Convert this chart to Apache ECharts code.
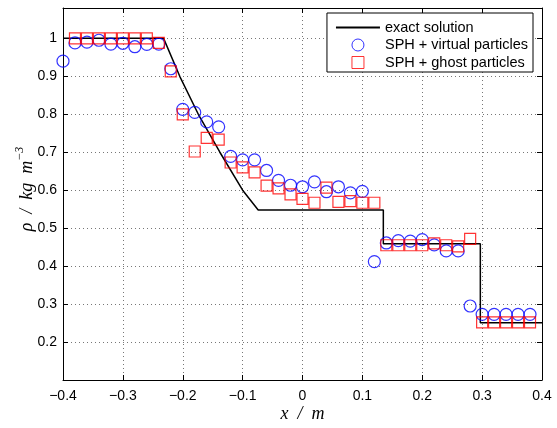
<!DOCTYPE html>
<html>
<head>
<meta charset="utf-8">
<script src="https://cdn.jsdelivr.net/npm/echarts@6/dist/echarts.min.js"></script>
<style>html,body{margin:0;padding:0;background:#fff}#c{width:557px;height:428px}</style>
</head>
<body>
<div id="c"></div>
<script>
// Exact solution (x, rho)
var exactX   = [-0.4, -0.232, -0.205, -0.174, -0.138, -0.100, -0.074, 0.135, 0.135, 0.297, 0.297, 0.4];
var exactRho = [1.0,  1.0,    0.9,    0.8,    0.7,    0.6,    0.548,  0.548, 0.459, 0.459, 0.251, 0.251];

// SPH + virtual particles (circles)
var virtX   = [-0.40, -0.38, -0.36, -0.34, -0.32, -0.30, -0.28, -0.26, -0.24, -0.22, -0.20, -0.18, -0.16, -0.14, -0.12, -0.10, -0.08, -0.06, -0.04, -0.02, 0.00, 0.02, 0.04, 0.06, 0.08, 0.10, 0.12, 0.14, 0.16, 0.18, 0.20, 0.22, 0.24, 0.26, 0.28, 0.30, 0.32, 0.34, 0.36, 0.38];
var virtRho = [0.940, 0.988, 0.990, 0.995, 0.985, 0.987, 0.978, 0.984, 0.985, 0.920, 0.813, 0.805, 0.780, 0.767, 0.689, 0.680, 0.680, 0.652, 0.626, 0.613, 0.609, 0.622, 0.596, 0.609, 0.593, 0.597, 0.412, 0.461, 0.467, 0.466, 0.470, 0.456, 0.440, 0.440, 0.295, 0.273, 0.273, 0.273, 0.273, 0.273];

// SPH + ghost particles (squares)
var ghostX   = [-0.38, -0.36, -0.34, -0.32, -0.30, -0.28, -0.26, -0.24, -0.22, -0.20, -0.18, -0.16, -0.14, -0.12, -0.10, -0.08, -0.06, -0.04, -0.02, 0.00, 0.02, 0.04, 0.06, 0.08, 0.10, 0.12, 0.14, 0.16, 0.18, 0.20, 0.22, 0.24, 0.26, 0.28, 0.30, 0.32, 0.34, 0.36, 0.38];
var ghostRho = [1.0, 1.0, 1.0, 1.0, 1.0, 1.0, 1.0, 0.988, 0.913, 0.800, 0.702, 0.738, 0.733, 0.673, 0.660, 0.647, 0.612, 0.605, 0.589, 0.577, 0.567, 0.607, 0.569, 0.571, 0.567, 0.567, 0.455, 0.455, 0.455, 0.455, 0.460, 0.455, 0.452, 0.472, 0.252, 0.252, 0.252, 0.252, 0.252];

var seriesNames = ['exact solution', 'SPH + virtual particles', 'SPH + ghost particles'];
var xTicks = {min: -0.4, max: 0.4, step: 0.1};
var yTicks = {min: 0.1, max: 1.08, step: 0.1};

function zip(a, b) { return a.map(function (v, i) { return [v, b[i]]; }); }
function fmt(v) {
  var r = Math.round(v * 10) / 10;
  if (r === 0) return '0';
  var s = Math.abs(r).toString();
  return (r < 0 ? '\u2212' : '') + s;
}

var tickFont = {fontFamily: 'Liberation Sans', fontSize: 14, color: '#000'};
var gridLine = {show: true, lineStyle: {color: '#777', type: [1, 3], width: 1}};

var chart = echarts.init(document.getElementById('c'), null, {renderer: 'canvas'});
chart.setOption({
  animation: false,
  backgroundColor: '#fff',
  grid: {left: 63, right: 15, top: 8, bottom: 44, containLabel: false},
  legend: {
    orient: 'vertical', right: 24, top: 13,
    itemWidth: 44, itemHeight: 12, itemGap: 2.5,
    padding: [7, 5, 2, 8],
    borderColor: '#000', borderWidth: 1, backgroundColor: '#fff',
    textStyle: {fontFamily: 'Liberation Sans', fontSize: 14.5, color: '#000'},
    data: [
      {name: seriesNames[0], itemStyle: {color: 'transparent', borderColor: 'transparent', borderWidth: 0}},
      {name: seriesNames[1], icon: 'circle', itemStyle: {color: 'transparent', borderColor: '#0000ff', borderWidth: 1}},
      {name: seriesNames[2], icon: 'path://M0,0L10,0L10,10L0,10Z', itemStyle: {color: 'transparent', borderColor: '#ff0000', borderWidth: 1}}
    ]
  },
  xAxis: [{
    type: 'value', min: xTicks.min, max: xTicks.max, interval: xTicks.step,
    position: 'bottom',
    axisLine: {show: true, onZero: false, lineStyle: {color: '#000', width: 1}},
    axisTick: {show: true, inside: true, length: 5, lineStyle: {color: '#000'}},
    axisLabel: Object.assign({margin: 9, formatter: fmt}, tickFont),
    splitLine: gridLine,
    name: 'x  /  m', nameLocation: 'middle', nameGap: 25, nameMoveOverlap: false,
    nameTextStyle: {fontFamily: 'Liberation Serif', fontStyle: 'italic', fontSize: 18, color: '#000', verticalAlign: 'top'}
  }, {
    type: 'value', min: xTicks.min, max: xTicks.max, interval: xTicks.step,
    position: 'top',
    axisLine: {show: true, onZero: false, lineStyle: {color: '#000', width: 1}},
    axisTick: {show: true, inside: true, length: 5, lineStyle: {color: '#000'}},
    axisLabel: {show: false}, splitLine: {show: false}
  }],
  yAxis: [{
    type: 'value', min: yTicks.min, max: yTicks.max, interval: yTicks.step,
    position: 'left',
    axisLine: {show: true, onZero: false, lineStyle: {color: '#000', width: 1}},
    axisTick: {show: true, inside: true, length: 5, lineStyle: {color: '#000'}},
    axisLabel: Object.assign({margin: 6, showMaxLabel: false, formatter: function (v) {
      var r = Math.round(v * 10) / 10;
      if (r < 0.15 || r > 1.05) return '';
      return fmt(r);
    }}, tickFont),
    splitLine: gridLine,
    name: '{a|\u03C1  /  kg  m}{s|\u22123}', nameLocation: 'middle', nameGap: 27, nameRotate: 90, nameMoveOverlap: false,
    nameTextStyle: {
      color: '#000', verticalAlign: 'bottom', padding: [0, 0, 0, 10],
      rich: {
        a: {fontFamily: 'Liberation Serif', fontStyle: 'italic', fontSize: 18, color: '#000', lineHeight: 22, verticalAlign: 'bottom'},
        s: {fontFamily: 'Liberation Serif', fontStyle: 'italic', fontSize: 12, color: '#000', lineHeight: 22, verticalAlign: 'top'}
      }
    }
  }, {
    type: 'value', min: yTicks.min, max: yTicks.max, interval: yTicks.step,
    position: 'right',
    axisLine: {show: true, onZero: false, lineStyle: {color: '#000', width: 1}},
    axisTick: {show: true, inside: true, length: 5, lineStyle: {color: '#000'}},
    axisLabel: {show: false}, splitLine: {show: false}
  }],
  series: [{
    name: seriesNames[0], type: 'line', data: zip(exactX, exactRho),
    symbol: 'none', showSymbol: false,
    lineStyle: {color: '#000', width: 1.5}, itemStyle: {color: '#000'},
    z: 3
  }, {
    name: seriesNames[1], type: 'scatter', data: zip(virtX, virtRho),
    symbol: 'circle', symbolSize: 12,
    itemStyle: {color: 'transparent', borderColor: '#0000ff', borderWidth: 1.2},
    z: 4
  }, {
    name: seriesNames[2], type: 'scatter', data: zip(ghostX, ghostRho),
    symbol: 'rect', symbolSize: 11,
    itemStyle: {color: 'transparent', borderColor: '#ff0000', borderWidth: 1.2},
    z: 5
  }]
});
</script>
</body>
</html>
